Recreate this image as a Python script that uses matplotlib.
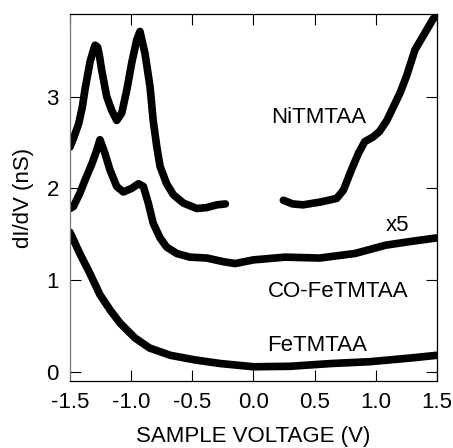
import matplotlib
matplotlib.use("Agg")
import matplotlib.pyplot as plt

plt.rcParams['font.family'] = ['Liberation Sans', 'DejaVu Sans']

# NiTMTAA, occupied-state side
ni_left_v = [-1.50, -1.47, -1.43, -1.40, -1.377, -1.336, -1.31, -1.295, -1.275, -1.26, -1.241, -1.20, -1.159,
             -1.118, -1.077, -1.036, -0.995, -0.954, -0.928, -0.887, -0.846, -0.82, -0.79, -0.764,
             -0.71, -0.655, -0.574, -0.464, -0.382, -0.30, -0.23]
ni_left_g = [2.45, 2.55, 2.70, 2.88, 3.08, 3.38, 3.50, 3.56, 3.54, 3.45, 3.29, 3.00, 2.85,
             2.74, 2.82, 3.07, 3.37, 3.62, 3.71, 3.47, 3.11, 2.74, 2.45, 2.24,
             2.05, 1.93, 1.84, 1.78, 1.79, 1.82, 1.83]
# NiTMTAA, empty-state side
ni_right_v = [0.244, 0.32, 0.405, 0.544, 0.68, 0.735, 0.80, 0.857, 0.91, 0.978, 1.03, 1.09,
              1.144, 1.198, 1.25, 1.32, 1.417, 1.47, 1.50]
ni_right_g = [1.87, 1.83, 1.82, 1.85, 1.89, 1.98, 2.20, 2.38, 2.51, 2.56, 2.62, 2.74,
              2.89, 3.04, 3.22, 3.51, 3.73, 3.85, 3.88]

# CO-FeTMTAA (x5)
co_v = [-1.50, -1.473, -1.418, -1.377, -1.32, -1.28, -1.255, -1.214, -1.173, -1.118, -1.064,
        -0.995, -0.94, -0.90, -0.86, -0.82, -0.764, -0.71, -0.628, -0.52, -0.38, -0.246, -0.15,
        0.0, 0.26, 0.54, 0.83, 1.08, 1.28, 1.50]
co_g = [1.78, 1.80, 1.95, 2.09, 2.27, 2.42, 2.53, 2.38, 2.20, 2.02, 1.96,
        2.00, 2.05, 2.02, 1.84, 1.62, 1.46, 1.36, 1.29, 1.25, 1.24, 1.20, 1.18,
        1.22, 1.25, 1.24, 1.29, 1.38, 1.42, 1.46]

# FeTMTAA
fe_v = [-1.50, -1.42, -1.34, -1.255, -1.17, -1.09, -0.97, -0.85, -0.68, -0.48, -0.27,
        0.0, 0.30, 0.63, 0.95, 1.28, 1.50]
fe_g = [1.52, 1.29, 1.08, 0.84, 0.67, 0.53, 0.37, 0.26, 0.18, 0.13, 0.09,
        0.055, 0.06, 0.09, 0.11, 0.15, 0.18]

fig = plt.figure(figsize=(4.53, 4.48), dpi=100)
ax = fig.add_axes([0.1545, 0.1496, 0.8102, 0.8191])

style = dict(color='black', lw=5.5, solid_capstyle='round', solid_joinstyle='round')
ax.plot(ni_left_v, ni_left_g, **style)
ax.plot(ni_right_v, ni_right_g, **style)
ax.plot(co_v, co_g, **style)
ax.plot(fe_v, fe_g, **style)

fs = 16
ax.text(0.53, 2.77, 'NiTMTAA', fontsize=fs, ha='center', va='center')
ax.text(1.18, 1.60, 'x5', fontsize=fs, ha='center', va='center')
ax.text(0.69, 0.87, 'CO-FeTMTAA', fontsize=fs, ha='center', va='center')
ax.text(0.52, 0.29, 'FeTMTAA', fontsize=fs, ha='center', va='center')

ax.set_xlim(-1.5, 1.5)
ax.set_ylim(-0.1, 3.9)
ax.set_xticks([-1.5, -1.0, -0.5, 0.0, 0.5, 1.0, 1.5])
ax.set_xticklabels(['-1.5', '-1.0', '-0.5', '0.0', '0.5', '1.0', '1.5'])
ax.set_yticks([0, 1, 2, 3])
ax.tick_params(direction='in', length=8, width=0.8, labelsize=fs, top=True, right=True)
ax.tick_params(axis='x', pad=8)
ax.tick_params(axis='y', pad=8)
for s in ax.spines.values():
    s.set_linewidth(0.9)
ax.spines['left'].set_color('#777777')

ax.set_xlabel('SAMPLE VOLTAGE (V)', fontsize=fs, labelpad=9)
ax.set_ylabel('dI/dV (nS)', fontsize=fs, labelpad=9)

fig.savefig('out.png', dpi=100)
